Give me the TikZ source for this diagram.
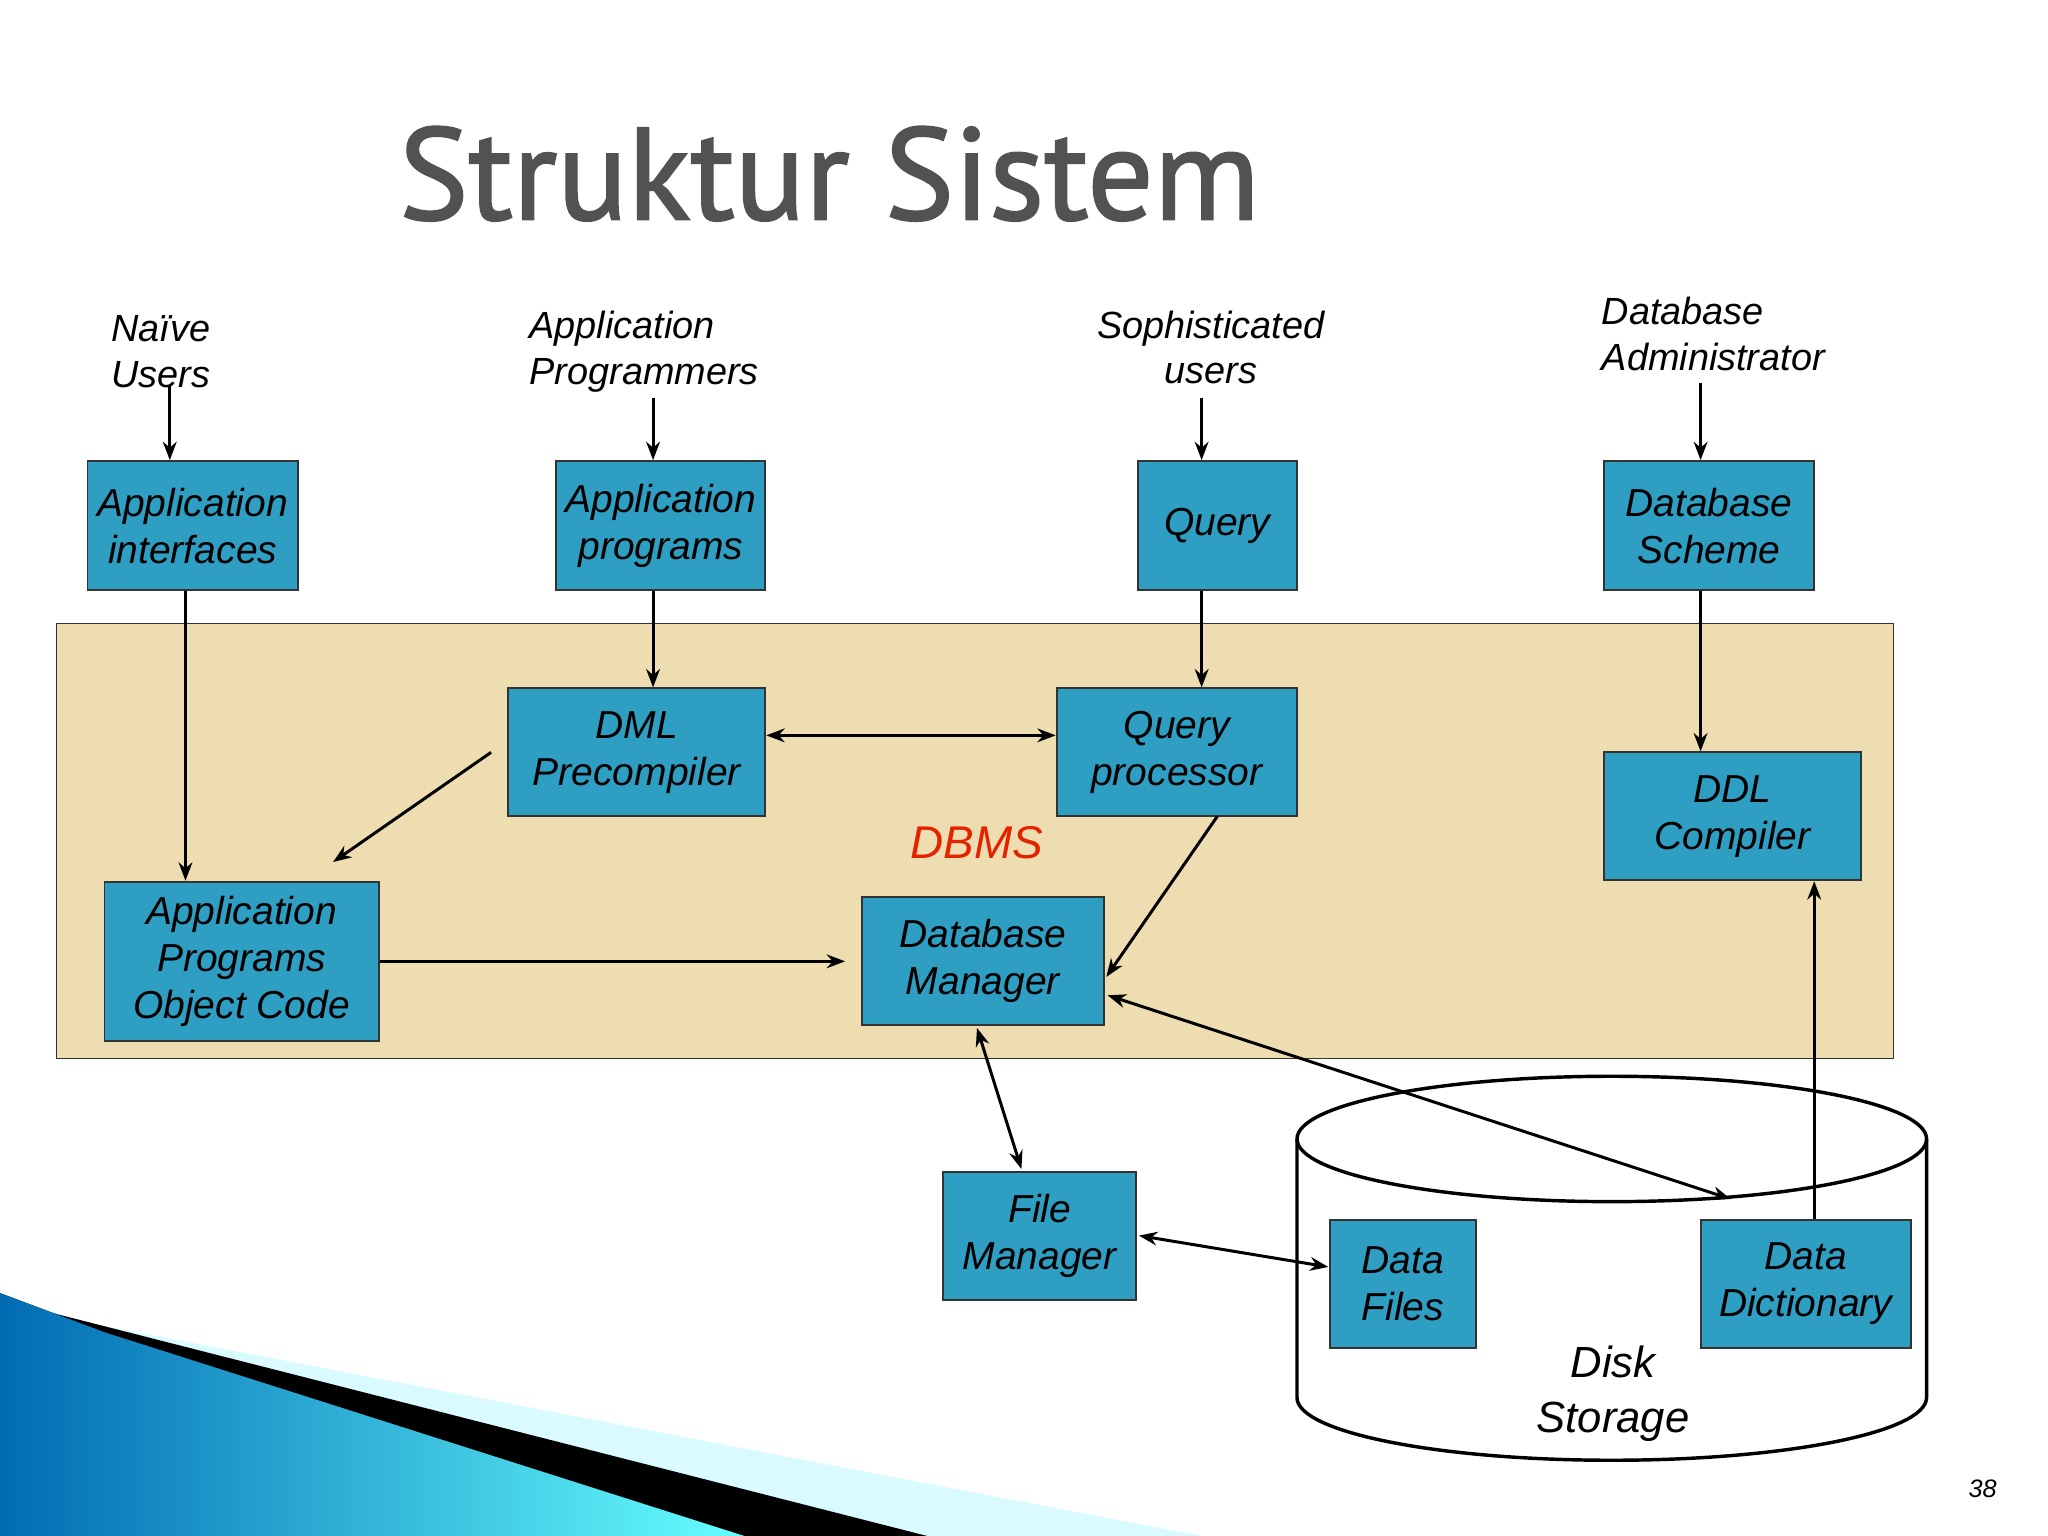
\documentclass[tikz,border=0pt]{standalone}
\usepackage{fontspec}
\setmainfont{Liberation Sans}
\newfontfamily\titlefont{PT Sans}
\usetikzlibrary{arrows.meta,shadows}
\definecolor{boxc}{HTML}{2E9EC3}
\definecolor{tan}{HTML}{EEDDB0}
\begin{document}
\begin{tikzpicture}[x=0.02cm,y=-0.02cm,
 box/.style={draw=black!80,fill=boxc,line width=0.8pt,align=center,inner sep=0pt,font=\itshape\fontsize{17}{20.5}\selectfont},
 lbl/.style={align=left,font=\itshape\fontsize{16.5}{20}\selectfont,inner sep=0pt},
 ar/.style={line width=1.3pt,-{Stealth[length=8pt,width=6pt]}},
 dar/.style={line width=1.3pt,{Stealth[length=8pt,width=6pt]}-{Stealth[length=8pt,width=6pt]}}]
\useasboundingbox (0,0) rectangle (1568,1176);
% swoosh
\fill[blue!10!cyan!15] (0,1000) -- (920,1176) -- (0,1176) -- cycle;
\fill[black] (0,995) -- (710,1176) -- (0,1176) -- cycle;
\fill[left color=cyan!60!blue!70!black, right color=cyan!60] (0,990) -- (80,1020) -- (570,1176) -- (0,1176) -- cycle;
% title
\node[font=\titlefont\fontsize{57}{60}\selectfont,text=black!68,line width=0.6pt,draw=none] (title) at (635,133) {\addfontfeature{FakeBold=1.5}Struktur Sistem};
% DBMS background
\node[draw=black!80,fill=tan,minimum width=1407*0.02cm,minimum height=333*0.02cm,inner sep=0pt] (bg) at (746.5,643.5) {};
% cylinder
\draw[line width=1.5pt,fill=white] (993,872) -- (993,1070) arc[start angle=180,end angle=0,x radius=241,y radius=48] -- (1475,872);
\draw[line width=1.5pt] (1234,872) ellipse[x radius=241,y radius=48];
\node[font=\itshape\fontsize{19}{24}\selectfont,align=center] (disk) at (1235,1067) {Disk\\Storage};
\node[text=red!70!orange!90!black,font=\itshape\fontsize{20}{22}\selectfont] (dbms) at (748,645) {DBMS};
\node[font=\itshape\fontsize{11}{13}\selectfont] (pg) at (1518,1140) {38};
% labels
\node[lbl,anchor=west] (nu) at (85,269) {Naïve\\Users};
\node[lbl,anchor=west] (ap) at (405,269) {Application\\Programmers};
\node[lbl,align=center] (su) at (927,266) {Sophisticated\\users};
\node[lbl,anchor=west] (da) at (1226,256) {Database\\Administrator};
% boxes
\newcommand{\bx}[6]{\node[box,minimum width=(#4-#2)*0.02cm,minimum height=(#5-#3)*0.02cm] (#1) at ({(#2+#4)/2},{(#3+#5)/2}) {#6};}
\bx{ai}{67}{353}{228}{452}{Application\\ interfaces}
\bx{apg}{426}{353}{586}{452}{Application\\ programs}
\bx{q}{871}{353}{993}{452}{Query}
\bx{ds}{1228}{353}{1389}{452}{Database\\Scheme}
\bx{dml}{389}{527}{586}{625}{DML\\Precompiler}
\bx{qp}{809}{527}{993}{625}{Query\\processor}
\bx{ddl}{1228}{576}{1425}{674}{DDL\\Compiler}
\bx{oc}{80}{675}{290}{797}{Application\\Programs\\Object Code}
\bx{dm}{660}{687}{845}{785}{Database\\Manager}
\bx{fm}{722}{897}{870}{995}{File\\Manager}
\bx{df}{1018}{934}{1130}{1032}{Data\\Files}
\bx{dd}{1302}{934}{1463}{1032}{Data\\Dictionary}
% arrows
\draw[ar] (130,295) -- (ai.north -| 130,0);
\draw[ar] (500,305) -- (apg.north -| 500,0);
\draw[ar] (920,305) -- (q.north -| 920,0);
\draw[ar] (1302,293) -- (ds.north -| 1302,0);
\draw[ar] (ai.south -| 142,0) -- (oc.north -| 142,0);
\draw[ar] (apg.south -| 500,0) -- (dml.north -| 500,0);
\draw[ar] (q.south -| 920,0) -- (qp.north -| 920,0);
\draw[ar] (ds.south -| 1302,0) -- (ddl.north -| 1302,0);
\draw[dar] (dml.east |- 0,563) -- (qp.west |- 0,563);
\coordinate (c1) at (376,576);
\draw[ar] (c1) -- (255,660);
\coordinate (c2) at (647,736);
\draw[ar] (oc.east |- 0,736) -- (c2);
\draw[ar] (932,625) -- (847,748);
\draw[dar] (848,762) -- (1325,918);
\draw[dar] (748,787) -- (782,895);
\draw[dar] (872,946) -- (1017,970);
\draw[ar] (dd.north -| 1389,0) -- (ddl.south -| 1389,0);
\end{tikzpicture}
\end{document}
